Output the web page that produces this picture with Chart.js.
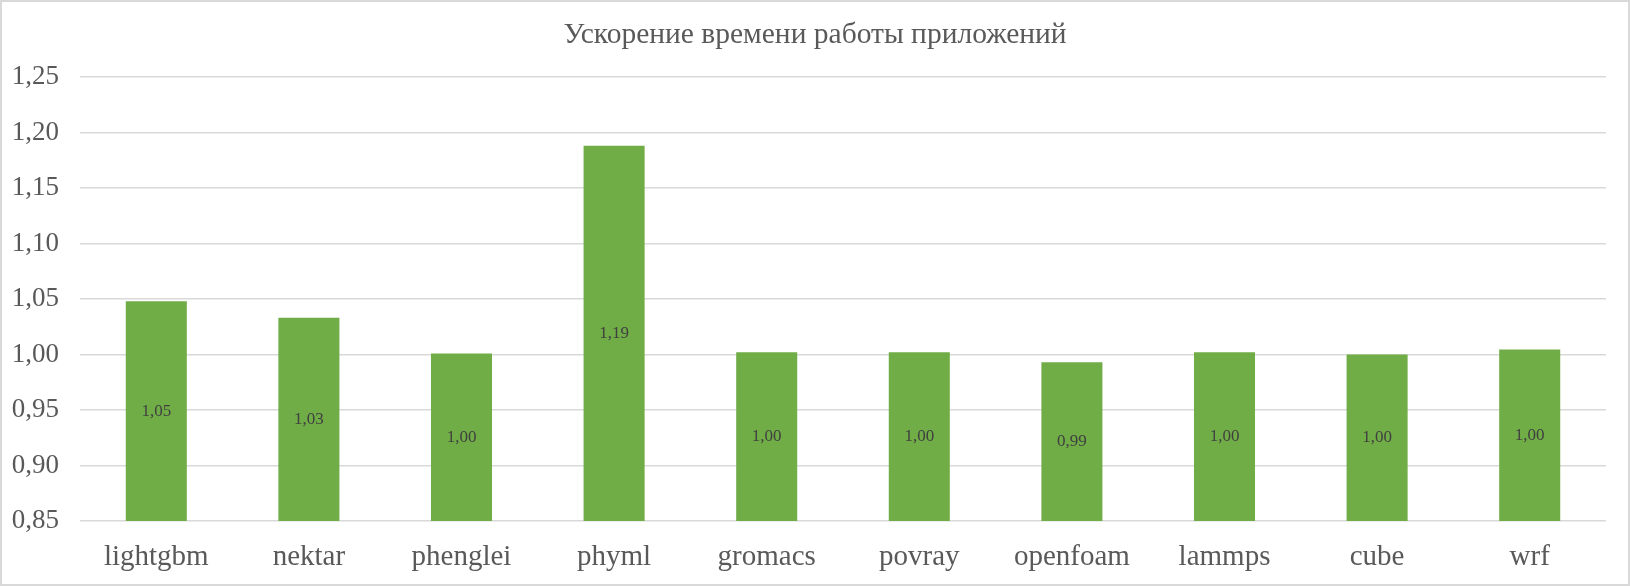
<!DOCTYPE html>
<html>
<head>
<meta charset="utf-8">
<script src="https://cdn.jsdelivr.net/npm/chart.js@4/dist/chart.umd.min.js"></script>
<style>
  html, body { margin: 0; padding: 0; background: #ffffff; }
  #wrap { position: relative; width: 1630px; height: 586px; box-sizing: border-box; border: 2px solid #d9d9d9; background: #fff; }
</style>
</head>
<body>
<div id="wrap"><canvas id="c"></canvas></div>
<script>
const titleText = 'Ускорение времени работы приложений';
const categories = ['lightgbm', 'nektar', 'phenglei', 'phyml', 'gromacs', 'povray', 'openfoam', 'lammps', 'cube', 'wrf'];
const speedup = [1.048, 1.033, 1.001, 1.188, 1.002, 1.002, 0.993, 1.002, 1.000, 1.0045];
const yMin = 0.85;
const yMax = 1.25;
const yStep = 0.05;

const fmt = v => Number(v).toFixed(2).replace('.', ',');
const FONT = "Liberation Serif";

const barLabels = {
  id: 'barLabels',
  afterDatasetsDraw(chart) {
    const ctx = chart.ctx;
    const meta = chart.getDatasetMeta(0);
    const vals = chart.data.datasets[0].data;
    const yScale = chart.scales.y;
    const bottom = yScale.getPixelForValue(yMin);
    ctx.save();
    ctx.font = '17px "Liberation Serif"';
    ctx.fillStyle = '#404040';
    ctx.textAlign = 'center';
    ctx.textBaseline = 'middle';
    for (let i = 0; i < meta.data.length; i++) {
      const bar = meta.data[i];
      ctx.fillText(fmt(vals[i]), bar.x, (bar.y + bottom) / 2);
    }
    ctx.restore();
  }
};

new Chart(document.getElementById('c'), {
  type: 'bar',
  data: {
    labels: categories,
    datasets: [{
      data: speedup,
      backgroundColor: '#70AD47',
      borderWidth: 0,
      categoryPercentage: 1.0,
      barPercentage: 0.4
    }]
  },
  options: {
    responsive: true,
    maintainAspectRatio: false,
    animation: false,
    layout: { padding: 0 },
    plugins: {
      legend: { display: false },
      tooltip: { enabled: false },
      title: {
        display: true,
        text: titleText,
        color: '#595959',
        font: { family: FONT, size: 29.5, weight: 'normal' },
        padding: { top: 16, bottom: 23.6 }
      }
    },
    scales: {
      x: {
        grid: { display: false },
        border: { display: false },
        ticks: { color: '#595959', font: { family: FONT, size: 29 }, padding: 11, maxRotation: 0 },
        afterFit(scale) { scale.height = 63; }
      },
      y: {
        min: yMin,
        max: yMax,
        grid: { color: '#d9d9d9', lineWidth: 1.6, drawTicks: false },
        border: { display: false },
        ticks: { stepSize: yStep, color: '#595959', font: { family: FONT, size: 27 }, padding: 21, callback: v => fmt(v) },
        afterFit(scale) { scale.width = 78; }
      },
      yRight: {
        type: 'linear',
        position: 'right',
        display: true,
        grid: { display: false, drawTicks: false },
        border: { display: false },
        ticks: { display: false },
        afterFit(scale) { scale.width = 22; }
      }
    }
  },
  plugins: [barLabels]
});
</script>
</body>
</html>
